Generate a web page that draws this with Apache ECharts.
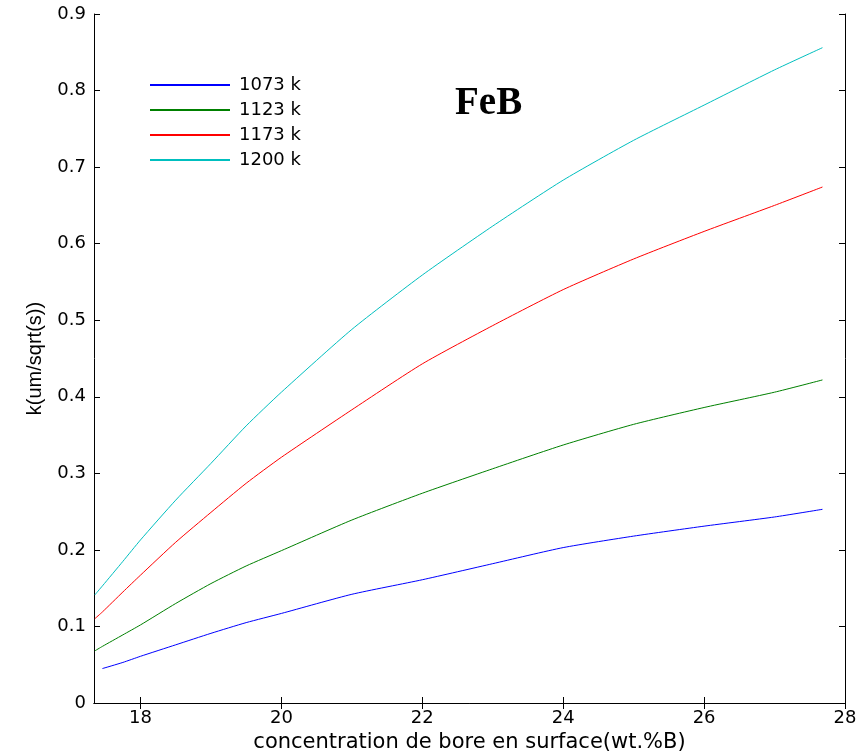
<!DOCTYPE html>
<html>
<head>
<meta charset="utf-8">
<script src="https://cdn.jsdelivr.net/npm/echarts@6/dist/echarts.min.js"></script>
<style>
    html, body { margin: 0; padding: 0; background: #fff; }
    #main { width: 859px; height: 754px; }
</style>
</head>
<body>
<div id="main"></div>
<script>
// concentration de bore en surface (wt.%B)
var xValues = [17.35, 17.46, 17.75, 18, 18.5, 19, 19.5, 20, 21, 22, 23, 24, 25, 26, 27, 27.68];

// k (um/sqrt(s)) pour chaque température
var k1073 = [null, 0.045, 0.053, 0.061, 0.076, 0.091, 0.105, 0.117, 0.142, 0.161, 0.182, 0.203, 0.218, 0.231, 0.243, 0.253];
var k1123 = [0.068, 0.074, 0.089, 0.102, 0.130, 0.156, 0.179, 0.199, 0.239, 0.274, 0.306, 0.337, 0.364, 0.386, 0.406, 0.422];
var k1173 = [0.110, 0.119, 0.145, 0.167, 0.210, 0.249, 0.287, 0.321, 0.383, 0.443, 0.493, 0.540, 0.580, 0.616, 0.650, 0.674];
var k1200 = [0.141, 0.153, 0.185, 0.213, 0.265, 0.313, 0.362, 0.406, 0.488, 0.559, 0.623, 0.683, 0.735, 0.781, 0.827, 0.856];

var seriesNames = ['1073 k', '1123 k', '1173 k', '1200 k'];
var seriesColors = ['#0000ff', '#008000', '#ff0000', '#00bfbf'];
var xTicks = [18, 20, 22, 24, 26, 28];

function pairs(ys) {
    var out = [];
    for (var i = 0; i < xValues.length; i++) {
        if (ys[i] !== null) out.push([xValues[i], ys[i]]);
    }
    return out;
}

var allData = [k1073, k1123, k1173, k1200];
var series = [];
for (var s = 0; s < allData.length; s++) {
    series.push({
        name: seriesNames[s],
        type: 'line',
        data: pairs(allData[s]),
        showSymbol: false,
        smooth: 0.2,
        lineStyle: { color: seriesColors[s], width: 1 },
        itemStyle: { color: seriesColors[s] }
    });
}

var tickFont = { fontFamily: 'DejaVu Sans', fontSize: 18, color: '#000' };

var option = {
    backgroundColor: '#fff',
    animation: false,
    title: {
        text: 'FeB',
        left: 450,
        top: 79,
        textStyle: { fontFamily: 'Liberation Serif', fontWeight: 'bold', fontSize: 39, color: '#000' }
    },
    legend: {
        orient: 'vertical',
        left: 150,
        top: 76,
        padding: 0,
        itemWidth: 80,
        itemHeight: 2,
        itemGap: 7,
        icon: 'rect',
        textStyle: { fontFamily: 'DejaVu Sans', fontSize: 18, color: '#000', padding: [0, 0, 0, 4] },
        data: seriesNames
    },
    grid: { left: 94, right: 14, top: 14, bottom: 51, outerBoundsMode: 'none' },
    xAxis: [{
        type: 'value',
        min: 17.34,
        max: 28,
        name: 'concentration de bore en surface(wt.%B)',
        nameLocation: 'middle',
        nameGap: 29,
        nameTextStyle: { fontFamily: 'DejaVu Sans', fontSize: 21, color: '#000' },
        axisLine: { lineStyle: { color: '#000', width: 1 } },
        axisTick: { inside: true, length: 6, customValues: xTicks, lineStyle: { color: '#000' } },
        axisLabel: { customValues: xTicks, margin: 6, ...tickFont },
        splitLine: { show: false }
    }, {
        type: 'value',
        position: 'top',
        min: 17.34,
        max: 28,
        axisLine: { show: true, lineStyle: { color: '#000', width: 1 } },
        axisTick: { inside: true, length: 6, customValues: xTicks, lineStyle: { color: '#000' } },
        axisLabel: { show: false },
        splitLine: { show: false }
    }],
    yAxis: [{
        type: 'value',
        min: 0,
        max: 0.9,
        interval: 0.1,
        name: 'k(um/sqrt(s))',
        nameLocation: 'middle',
        nameGap: 49,
        nameTextStyle: { fontFamily: 'Liberation Sans Narrow, Liberation Sans', fontSize: 20, color: '#000' },
        axisLine: { show: true, lineStyle: { color: '#000', width: 1 } },
        axisTick: { inside: true, length: 6, lineStyle: { color: '#000' } },
        axisLabel: { margin: 8, formatter: function (v) { return +v.toFixed(1) + ''; }, ...tickFont },
        splitLine: { show: false }
    }, {
        type: 'value',
        position: 'right',
        min: 0,
        max: 0.9,
        interval: 0.1,
        axisLine: { show: true, lineStyle: { color: '#000', width: 1 } },
        axisTick: { inside: true, length: 6, lineStyle: { color: '#000' } },
        axisLabel: { show: false },
        splitLine: { show: false }
    }],
    series: series
};

var myChart = echarts.init(document.getElementById('main'));
myChart.setOption(option);
</script>
</body>
</html>
